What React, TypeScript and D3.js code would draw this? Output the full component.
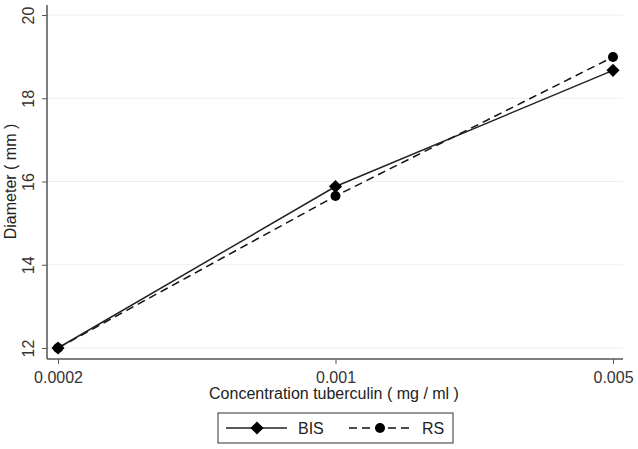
import React, { useEffect, useRef } from "react";
import * as d3 from "d3";

const concentrations = ["0.0002", "0.001", "0.005"];
const bisValues = [12.0, 15.88, 18.67];
const rsValues = [12.0, 15.65, 18.99];
const yTicks = [12, 14, 16, 18, 20];

const App = () => {
  const ref = useRef<SVGSVGElement>(null);

  useEffect(() => {
    const svg = d3.select(ref.current);
    svg.selectAll("*").remove();

    const width = 638, height = 449;
    const left = 47, right = 623, top = 5, bottom = 359;
    const font = "'Liberation Sans', Arial, sans-serif";
    const fs = "16px";

    const x = d3.scalePoint().domain(concentrations).range([58, 613]);
    const y = d3.scaleLinear().domain([12, 20]).range([348, 15]);

    svg.attr("width", width).attr("height", height);
    svg.append("rect").attr("width", width).attr("height", height).attr("fill", "#fff");

    // grid lines
    svg.append("g")
      .selectAll("line")
      .data(yTicks)
      .enter()
      .append("line")
      .attr("x1", left)
      .attr("x2", right)
      .attr("y1", (d) => y(d))
      .attr("y2", (d) => y(d))
      .attr("stroke", "#eaf0f0")
      .attr("stroke-width", 1);

    // Y axis
    const yAxis = svg.append("g")
      .attr("transform", `translate(${left},0)`)
      .call(d3.axisLeft(y).tickValues(yTicks).tickSize(5).tickSizeOuter(0));
    yAxis.select(".domain").remove();
    yAxis.selectAll("line").attr("stroke", "#555");
    yAxis.selectAll("text").remove();
    yAxis.selectAll(".tick")
      .append("text")
      .attr("transform", "translate(-13,0) rotate(-90)")
      .attr("text-anchor", "middle")
      .attr("fill", "#333")
      .style("font-family", font)
      .style("font-size", fs)
      .text((d: any) => d);
    svg.append("line")
      .attr("x1", left).attr("x2", left)
      .attr("y1", top).attr("y2", bottom)
      .attr("stroke", "#555").attr("stroke-width", 1.5);

    // X axis
    const xAxis = svg.append("g")
      .attr("transform", `translate(0,${bottom})`)
      .call(d3.axisBottom(x).tickSize(5).tickSizeOuter(0));
    xAxis.select(".domain").remove();
    xAxis.selectAll("line").attr("stroke", "#555");
    xAxis.selectAll("text")
      .attr("fill", "#333")
      .attr("dy", "1em")
      .style("font-family", font)
      .style("font-size", fs);
    svg.append("line")
      .attr("x1", left).attr("x2", right)
      .attr("y1", bottom).attr("y2", bottom)
      .attr("stroke", "#555").attr("stroke-width", 1.5);

    // axis titles
    svg.append("text")
      .attr("x", (left + right) / 2 - 1)
      .attr("y", 399)
      .attr("text-anchor", "middle")
      .attr("fill", "#222")
      .style("font-family", font)
      .style("font-size", fs)
      .text("Concentration tuberculin ( mg / ml )");
    svg.append("text")
      .attr("transform", `translate(16,${y(16)}) rotate(-90)`)
      .attr("text-anchor", "middle")
      .attr("fill", "#222")
      .style("font-family", font)
      .style("font-size", fs)
      .text("Diameter ( mm )");

    const line = d3.line<number>()
      .x((_, i) => x(concentrations[i]) as number)
      .y((d) => y(d));

    const diamond = d3.symbol().type(d3.symbolDiamond2).size(110);

    // RS (dashed, circles)
    svg.append("path")
      .datum(rsValues)
      .attr("fill", "none")
      .attr("stroke", "#111")
      .attr("stroke-width", 1.5)
      .attr("stroke-dasharray", "8,5")
      .attr("d", line);

    // BIS (solid, diamonds)
    svg.append("path")
      .datum(bisValues)
      .attr("fill", "none")
      .attr("stroke", "#222")
      .attr("stroke-width", 1.5)
      .attr("d", line);

    svg.selectAll(".rs-dot")
      .data(rsValues)
      .enter()
      .append("circle")
      .attr("cx", (_, i) => x(concentrations[i]) as number)
      .attr("cy", (d) => y(d))
      .attr("r", 5)
      .attr("fill", "#000");

    svg.selectAll(".bis-dot")
      .data(bisValues)
      .enter()
      .append("path")
      .attr("d", diamond)
      .attr("transform", (d, i) => `translate(${x(concentrations[i])},${y(d)})`)
      .attr("fill", "#000");

    // Legend
    const lg = svg.append("g");
    lg.append("rect")
      .attr("x", 218).attr("y", 413)
      .attr("width", 235).attr("height", 30)
      .attr("fill", "#fff").attr("stroke", "#333").attr("stroke-width", 1);
    lg.append("line")
      .attr("x1", 226).attr("x2", 287).attr("y1", 428).attr("y2", 428)
      .attr("stroke", "#222").attr("stroke-width", 1.5);
    lg.append("path")
      .attr("d", diamond)
      .attr("transform", "translate(257,428)")
      .attr("fill", "#000");
    lg.append("text")
      .attr("x", 298).attr("y", 434)
      .attr("fill", "#222")
      .style("font-family", font).style("font-size", fs)
      .text("BIS");
    lg.append("line")
      .attr("x1", 349).attr("x2", 411).attr("y1", 428).attr("y2", 428)
      .attr("stroke", "#111").attr("stroke-width", 1.5)
      .attr("stroke-dasharray", "8,5");
    lg.append("circle")
      .attr("cx", 380).attr("cy", 428).attr("r", 5).attr("fill", "#000");
    lg.append("text")
      .attr("x", 422).attr("y", 434)
      .attr("fill", "#222")
      .style("font-family", font).style("font-size", fs)
      .text("RS");
  }, []);

  return <svg ref={ref} style={{ position: "absolute", left: 0, top: 0 }} />;
};

export default App;
